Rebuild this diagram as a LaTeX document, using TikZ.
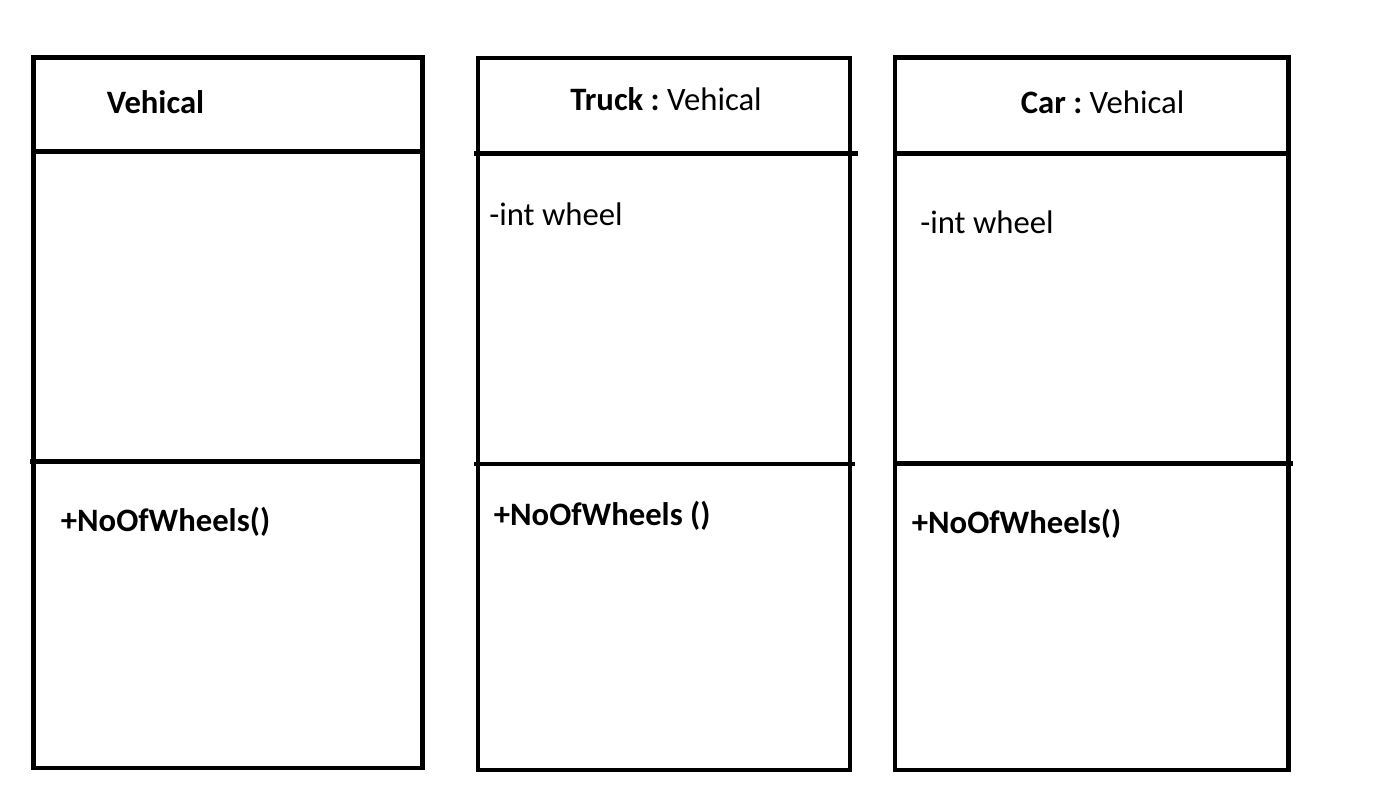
\documentclass[tikz,border=0pt]{standalone}
\usepackage{fontspec}
\setmainfont{Carlito}
\usepackage{tkz-euclide}
\frenchspacing

\begin{document}
\begin{tikzpicture}[boxline/.style={line width=0.09cm, line cap=butt, line join=miter},
    member/.style={anchor=base west, inner sep=0pt, font=\fontsize{18.6}{22}\selectfont}]
    \useasboundingbox (0,0) rectangle (27.9,16.16);
    \tkzDefPoints{0.67/15.01/V1, 8.45/15.01/V2, 8.45/0.80/V3, 0.67/0.80/V4}
    \tkzDefPoints{0.67/13.13/V5, 8.45/13.13/V6, 0.60/6.93/V7, 8.50/6.93/V8}
    \tkzDefPoints{9.56/15.00/T1, 17.00/15.00/T2, 17.00/0.76/T3, 9.56/0.76/T4}
    \tkzDefPoints{9.48/13.09/T5, 17.16/13.09/T6, 9.48/6.88/T7, 17.10/6.88/T8}
    \tkzDefPoints{17.90/15.01/C1, 25.77/15.01/C2, 25.77/0.76/C3, 17.90/0.76/C4}
    \tkzDefPoints{17.90/13.09/C5, 25.77/13.09/C6, 17.90/6.89/C7, 25.85/6.89/C8}
    \tkzDrawPolygon[boxline](V1,V2,V3,V4)
    \tkzDrawPolygon[boxline](T1,T2,T3,T4)
    \tkzDrawPolygon[boxline](C1,C2,C3,C4)
    \tkzDrawSegments[boxline](V5,V6 V7,V8 T5,T6 T7,T8 C5,C6 C7,C8)
    \node[member] (vname) at (2.13,13.88) {\textbf{Vehical}};
    \node[member] (vop) at (1.21,5.53) {\textbf{+NoOfWheels()}};
    \node[member] (tname) at (11.40,13.95) {\textbf{Truck :} Vehical};
    \node[member] (tattr) at (9.78,11.65) {-int wheel};
    \node[member] (top) at (9.87,5.64) {\textbf{+NoOfWheels ()}};
    \node[member] (cname) at (20.41,13.88) {\textbf{Car :} Vehical};
    \node[member] (cattr) at (18.40,11.48) {-int wheel};
    \node[member] (cop) at (18.23,5.48) {\textbf{+NoOfWheels()}};
\end{tikzpicture}
\end{document}
